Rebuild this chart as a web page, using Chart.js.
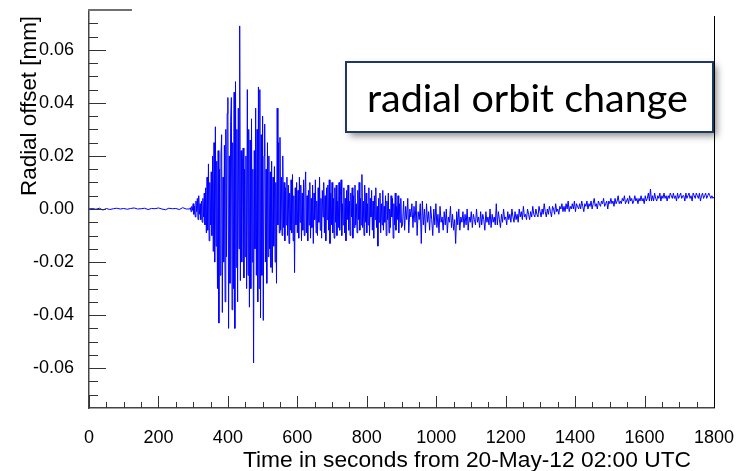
<!DOCTYPE html>
<html>
<head>
<meta charset="utf-8">
<script src="https://cdn.jsdelivr.net/npm/chart.js@4.4.1/dist/chart.umd.min.js"></script>
<style>
html,body{margin:0;padding:0;background:#fff;}
#wrap{width:741px;height:471px;position:relative;}
</style>
</head>
<body>
<div id="wrap"><canvas id="c" width="741" height="471"></canvas></div>
<script>
// ---------- DATA (values in micrometres, i.e. 0.001 mm) ----------
const xTickLabels = [0, 200, 400, 600, 800, 1000, 1200, 1400, 1600, 1800];
const yTickLabels = [-0.06, -0.04, -0.02, 0.00, 0.02, 0.04, 0.06];

// quiet period before the quake: samples every 10 s from t=0
const quietStart = 0, quietStep = 10;
const quietValues = [0,0.2,-0.1,0.3,-0.4,0.2,-0.2,0.1,0.3,0,0.2,-0.1,0.2,0.4,0,0.1,0.3,-0.2,0.2,0.1,0.4,0,-0.3,0.3,0.1,0.2,-0.2,0.5,0];

// main shaking: samples every 2 s from t=290
const mainStart = 290, mainStep = 2;
const mainValues = [
 0,0.5,-1,1,-0.5,2,-2,1,-3,3,
 -1,4,-4,5,-2,2,-4,3,-5,4,
 -3,6,-6,8,-9,12,-8,17,-12,10,
 -6,14,-10,20,-16,25,-20,31,-14,18,
 -30,22,-43,15,-25,20,28,-39,12,-20,
 24,-35,30,-18,36,42,-45,20,-28,33,
 42,-38,25,-30,44,-45,48,-22,30,-35,
 38,-15,69,-27,22,-20,18,23,-26,15,
 -18,20,-30,45,-25,30,-37,26,-30,34,
 -20,15,-58,22,-15,38,-25,30,-35,46,
 -30,45,-41,28,-25,35,-42,20,32,-20,
 15,-28,25,-18,20,-15,14,-22,18,-24,
 12,-14,16,-20,10,-28,38,-6,25,-9,
 27,-8,12,-10,20,-7,10,-12,8,-6,
 12,-10,9,-13,6,-8,11,-9,13,-12,
 5,-24,8,-6,10,-9,7,-11,12,-5,
 9,-12,6,-8,11,-10,8,14,-9,5,
 -12,7,-6,10,-11,4,-7,9,-13,6,
 -4,11,-9,3,-10,8,-5,12,-8,4,
 -11,7,-3,10,-9,5,-12,8,-4,9,
 -8,11,-13,6,-6,10,-9,4,-11,8,
 -5,9,-10,3,-7,10,-8,5,11,-10,
 2,-6,8,-9,4,-12,7,-4,9,-8,
 3,-10,6,-3,8,-11,5,-7,9,-6,
 2,-9,7,-4,10,-8,4,-6,13,-7,
 3,-10,9,-5,6,-9,2,-6,8,-10,
 4,-3,7,-8,3,-11,5,-4,8,-7,
 1,-14,4,-5,6,-9,2,-6,7,-8,
 1,-5,5,-10,3,-4,6,-9,0,-7,
 5,-3,4,-11,2,-6,6,-8,1,-4,
 5,-9,2,-5,4,-7
];

// slow drift afterwards: samples every 3 s from t=903
const tailStart = 903, tailStep = 3;
const tailValues = [
 -6,3,-8,1,-4,4,-9,0,-3,2,
 -7,1,-5,3,-10,-1,-4,2,-13,3,
 -6,0,-9,2,-5,-1,-8,1,-4,-10,
 0,-6,2,-7,-2,-9,1,-5,-3,-8,
 -1,-6,0,-9,-3,-5,1,-7,-2,-8,
 -4,-13,-1,-6,0,-8,-3,-5,-1,-7,
 -2,-6,0,-8,-3,-5,-1,-7,-2,-4,
 -6,0,-5,-3,-7,-1,-6,-2,-4,-8,
 -1,-5,-3,-6,0,-7,-2,-5,-3,-6,
 2,-6,-1,-4,-7,-2,-5,0,-4,-3,
 -6,-1,-4,-2,-5,0,-3,-5,-1,-4,
 -2,-5,0,-3,-1,-4,1,-3,-2,-4,
 0,-2,-4,-1,-3,1,-2,-3,0,-2,
 -3,1,-1,-3,0,-2,2,-1,-3,0,
 -2,1,-1,-3,1,0,-2,2,-1,0,
 -2,1,0,2,-1,1,-1,2,0,3,
 -1,1,0,2,0,3,-1,2,1,0,
 2,0,3,1,-1,2,1,3,0,2,
 1,3,0,2,4,1,2,0,3,2,
 1,3,2,4,1,2,3,0,3,2,
 4,2,3,1,4,2,3,5,2,3,
 2,4,3,5,2,3,4,2,5,3,
 4,2,3,5,3,4,2,4,3,5,
 3,4,2,5,3,4,6,3,7.5,3,
 5,3,6,4,3,5,4,6,3,5,
 4,6,4,5,3,5,4,6,5,4,
 6,4,5,3,6,4,5,6,4,5,
 5,3,6,4,5,6,4,5,3,6,
 5,4,6,5,4,6,3,5,6,4,
 5,6,4,5,6,5,4,5,4,4.5
];

const xTitle = 'Time in seconds from 20-May-12 02:00 UTC';
const yTitle = 'Radial offset [mm]';
const noteText = 'radial orbit change';

// ---------- build points ----------
const points = [];
function addSegment(start, step, vals) {
  vals.forEach((v, i) => points.push({x: start + i * step, y: v / 1000}));
}
addSegment(quietStart, quietStep, quietValues);
addSegment(mainStart, mainStep, mainValues);
addSegment(tailStart, tailStep, tailValues);

const FAM = "'Liberation Sans', Arial, Helvetica, sans-serif";

function fitSize(ctx, text, family, target) {
  ctx.font = '20px ' + family;
  const w = ctx.measureText(text).width;
  return 20 * target / w;
}

const deco = {
  id: 'deco',
  afterDraw(chart) {
    const {ctx, chartArea: a, scales: {x, y}} = chart;
    ctx.save();
    // inward ticks
    ctx.strokeStyle = '#333';
    ctx.lineWidth = 1;
    ctx.beginPath();
    for (let i = 0; i < xTickLabels.length; i++) {
      const v0 = xTickLabels[i];
      for (let k = 0; k < 4; k++) {
        const v = v0 + k * 50;
        if (v > 1800) break;
        const px = Math.round(x.getPixelForValue(v)) + 0.5;
        const len = k === 0 ? 12 : 6;
        ctx.moveTo(px, a.bottom);
        ctx.lineTo(px, a.bottom - len);
      }
    }
    for (let i = 0; i < yTickLabels.length; i++) {
      const v0 = yTickLabels[i];
      for (let k = -3; k <= 3; k++) {
        if (k !== 0 && i > 0 && k < 0) continue;
        const v = v0 + k * 0.005;
        if (v < -0.0745 || v > 0.0745) continue;
        const py = Math.round(y.getPixelForValue(v)) + 0.5;
        const len = k === 0 ? 17 : 9;
        ctx.moveTo(a.left, py);
        ctx.lineTo(a.left + len, py);
      }
    }
    ctx.stroke();

    // partial top frame and right frame
    ctx.strokeStyle = '#707070';
    ctx.lineWidth = 2;
    ctx.beginPath();
    ctx.moveTo(a.left - 1, a.top);
    ctx.lineTo(132, a.top);
    ctx.stroke();
    ctx.strokeStyle = '#000';
    ctx.lineWidth = 1;
    ctx.beginPath();
    ctx.moveTo(a.right + 0.5, 16);
    ctx.lineTo(a.right + 0.5, a.bottom);
    ctx.stroke();

    // axis titles
    ctx.fillStyle = '#000';
    let s = fitSize(ctx, xTitle, FAM, 448);
    ctx.font = s.toFixed(2) + 'px ' + FAM;
    ctx.textAlign = 'right';
    ctx.textBaseline = 'alphabetic';
    ctx.fillText(xTitle, 691, 467);

    s = fitSize(ctx, yTitle, FAM, 180);
    ctx.save();
    ctx.translate(36, 16);
    ctx.rotate(-Math.PI / 2);
    ctx.font = s.toFixed(2) + 'px ' + FAM;
    ctx.textAlign = 'right';
    ctx.textBaseline = 'alphabetic';
    ctx.fillText(yTitle, 0, 0);
    ctx.restore();

    // annotation box
    const bx = 346, by = 62, bw = 367, bh = 70;
    ctx.save();
    ctx.shadowColor = 'rgba(0,0,0,0.45)';
    ctx.shadowBlur = 7;
    ctx.shadowOffsetX = 4;
    ctx.shadowOffsetY = 4;
    ctx.fillStyle = '#fff';
    ctx.fillRect(bx, by, bw, bh);
    ctx.restore();
    ctx.strokeStyle = '#203864';
    ctx.lineWidth = 2;
    ctx.strokeRect(bx, by, bw, bh);
    const nf = "Lato, 'Open Sans', sans-serif";
    s = fitSize(ctx, noteText, nf, 321);
    ctx.font = s.toFixed(2) + 'px ' + nf;
    ctx.fillStyle = '#000';
    ctx.textAlign = 'left';
    ctx.fillText(noteText, 367, 112);
    ctx.restore();
  }
};

new Chart(document.getElementById('c'), {
  type: 'line',
  data: {
    datasets: [{
      data: points,
      borderColor: '#0000ff',
      borderWidth: 1,
      pointRadius: 0,
      tension: 0,
      fill: false
    }]
  },
  options: {
    responsive: false,
    animation: false,
    devicePixelRatio: 1,
    parsing: false,
    normalized: true,
    layout: {padding: {left: 0, right: 27, top: 10, bottom: 0}},
    plugins: {legend: {display: false}, tooltip: {enabled: false}},
    scales: {
      x: {
        type: 'linear', min: 0, max: 1800,
        afterBuildTicks(sc) { sc.ticks = xTickLabels.map(v => ({value: v})); },
        afterFit(sc) { sc.height = 63; sc.paddingLeft = 0; sc.paddingRight = 0; },
        grid: {display: false},
        border: {display: true, color: '#444', width: 1.5},
        ticks: {autoSkip: false, maxRotation: 0, padding: 11, color: '#000',
                font: {family: FAM, size: 18},
                callback: v => String(v)}
      },
      y: {
        type: 'linear', min: -0.075, max: 0.075,
        afterBuildTicks(sc) { sc.ticks = yTickLabels.map(v => ({value: v})); },
        afterFit(sc) { sc.width = 89; sc.paddingTop = 0; sc.paddingBottom = 0; },
        grid: {display: false},
        border: {display: true, color: '#444', width: 1.5},
        ticks: {autoSkip: false, padding: 7, color: '#000',
                font: {family: FAM, size: 18},
                callback: v => Number(v).toFixed(2)}
      }
    }
  },
  plugins: [deco]
});
</script>
</body>
</html>
